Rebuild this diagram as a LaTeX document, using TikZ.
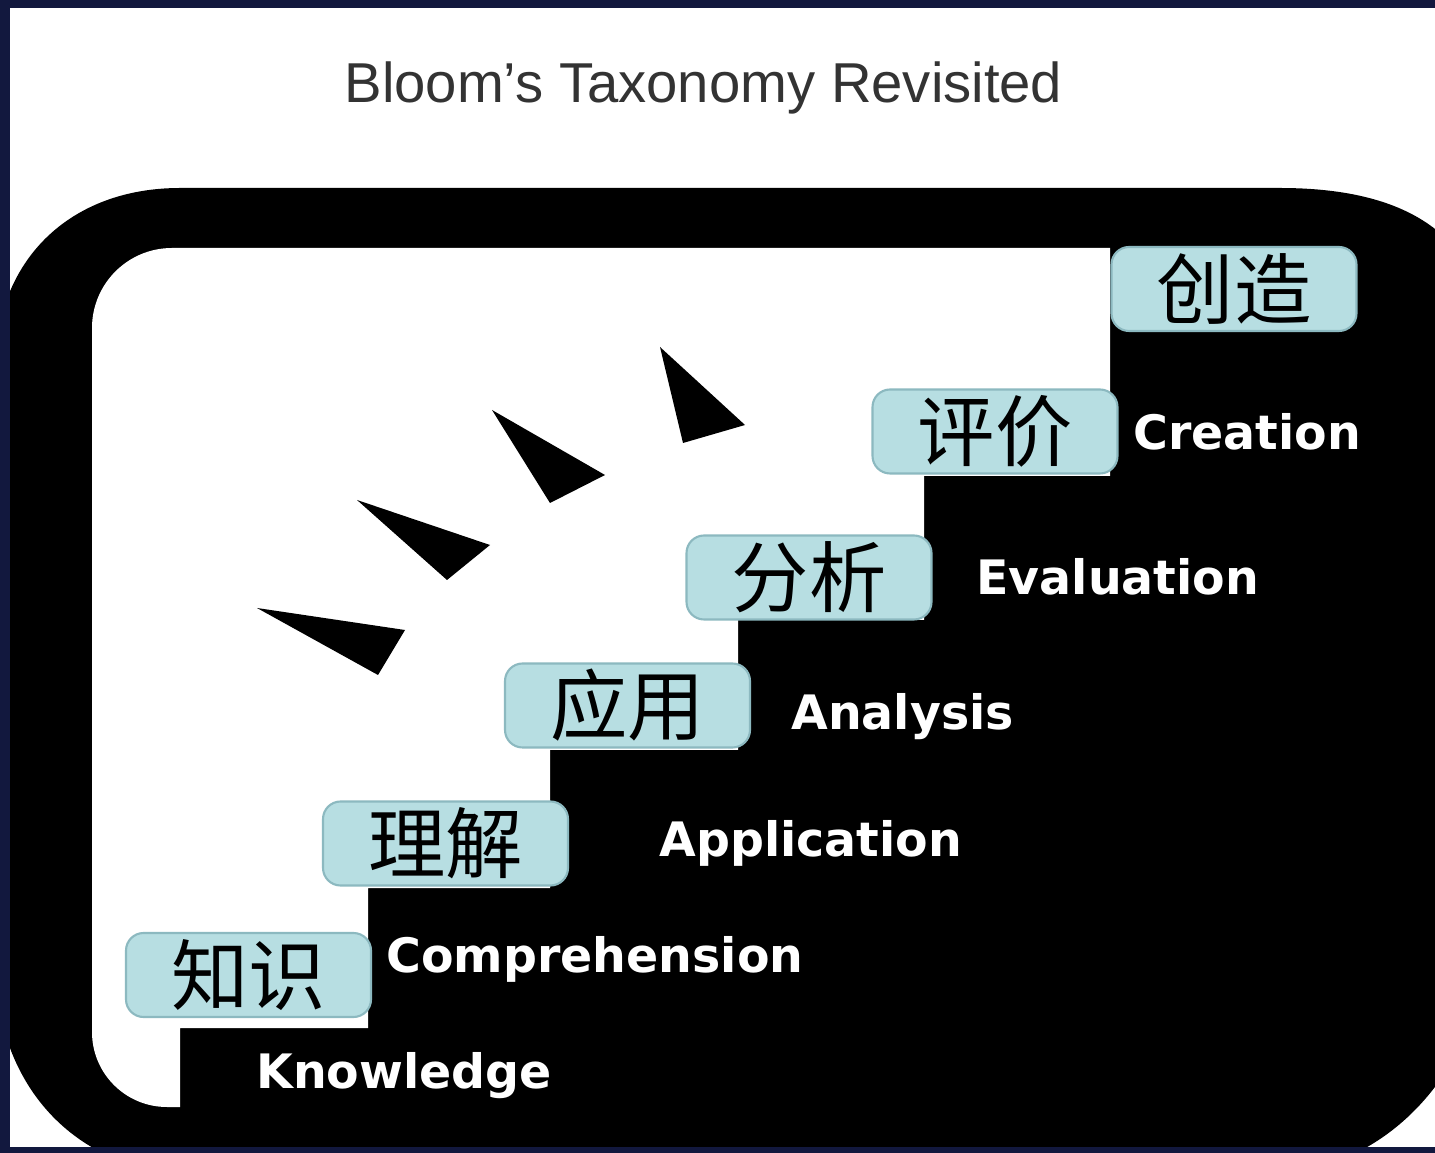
\documentclass[tikz,border=0pt]{standalone}
\usepackage{fontspec}
\setmainfont{Liberation Sans}
\newfontfamily\cjkfont{Noto Sans CJK SC}
\newfontfamily\stepfont{DejaVu Sans}
\definecolor{framenavy}{RGB}{18,24,62}
\definecolor{stepcyan}{RGB}{183,222,226}
\definecolor{stepedge}{RGB}{140,185,192}
\definecolor{titlegray}{RGB}{51,51,51}
\begin{document}
\begin{tikzpicture}[line join=round, line cap=round, thick]
			\tikzset{cnbox/.style={fill=stepcyan, draw=stepedge, line width=0.6pt, rounded corners=5pt, minimum width=2.45cm, minimum height=0.84cm, inner sep=0pt, font=\cjkfont\fontsize{22}{22}\selectfont},
				enlabel/.style={text=white, anchor=base west, inner sep=0pt, font=\stepfont\bfseries\fontsize{13.5}{13.5}\selectfont}}
			\useasboundingbox (0,0) rectangle (14.35,-11.53);
			\fill[white] (0,0) rectangle (14.35,-11.53);
			% black frame and staircase
			\fill[black] (-0.05,-3.7) .. controls (-0.05,-2.6) and (0.7,-1.88) .. (1.8,-1.88) -- (12.8,-1.88)
			.. controls (14.0,-1.88) and (14.9,-2.3) .. (14.9,-3.6) -- (14.9,-9.2)
			.. controls (14.9,-10.5) and (14.0,-11.75) .. (12.6,-11.75) -- (2.0,-11.75)
			.. controls (0.8,-11.75) and (-0.05,-10.9) .. (-0.05,-9.6) -- cycle;
			\fill[white] (0.92,-3.28) arc[start angle=180, end angle=90, radius=0.8] -- (11.1,-2.48) -- (11.1,-4.76)
			-- (9.24,-4.76) -- (9.24,-6.2) -- (7.38,-6.2) -- (7.38,-7.5) -- (5.5,-7.5) -- (5.5,-8.88)
			-- (3.68,-8.88) -- (3.68,-10.28) -- (1.8,-10.28) -- (1.8,-11.07) -- (1.67,-11.07)
			arc[start angle=270, end angle=180, radius=0.75] -- cycle;
			\fill[framenavy] (0,0) rectangle (0.1,-11.53);
			\fill[framenavy] (0,0) rectangle (14.35,-0.08);
			\fill[framenavy] (0,-11.47) rectangle (14.35,-11.53);
			% wedges
			\fill (2.57,-6.08) -- (4.05,-6.30) -- (3.78,-6.75) -- cycle;
			\fill (3.57,-5.00) -- (4.90,-5.45) -- (4.47,-5.80) -- cycle;
			\fill (4.92,-4.10) -- (6.05,-4.75) -- (5.50,-5.03) -- cycle;
			\fill (6.60,-3.47) -- (7.45,-4.25) -- (6.83,-4.43) -- cycle;
			% boxes
			\node[cnbox] (zhishi) at (2.485,-9.75) {知识};
			\node[cnbox] (lijie) at (4.455,-8.435) {理解};
			\node[cnbox] (yingyong) at (6.275,-7.055) {应用};
			\node[cnbox] (fenxi) at (8.09,-5.775) {分析};
			\node[cnbox] (pingjia) at (9.95,-4.315) {评价};
			\node[cnbox] (chuangzao) at (12.34,-2.89) {创造};
			% labels
			\node[enlabel] (knowledge) at (2.55,-10.88) {Knowledge};
			\node[enlabel] (comprehension) at (3.85,-9.72) {Comprehension};
			\node[enlabel] (application) at (6.58,-8.57) {Application};
			\node[enlabel] (analysis) at (7.9,-7.3) {Analysis};
			\node[enlabel] (evaluation) at (9.75,-5.95) {Evaluation};
			\node[enlabel] (creation) at (11.32,-4.5) {Creation};
			\node[anchor=base, text=titlegray, font=\fontsize{16}{16}\selectfont] (title) at (7.035,-1.03) {Bloom’s Taxonomy Revisited};
		\end{tikzpicture}
\end{document}
